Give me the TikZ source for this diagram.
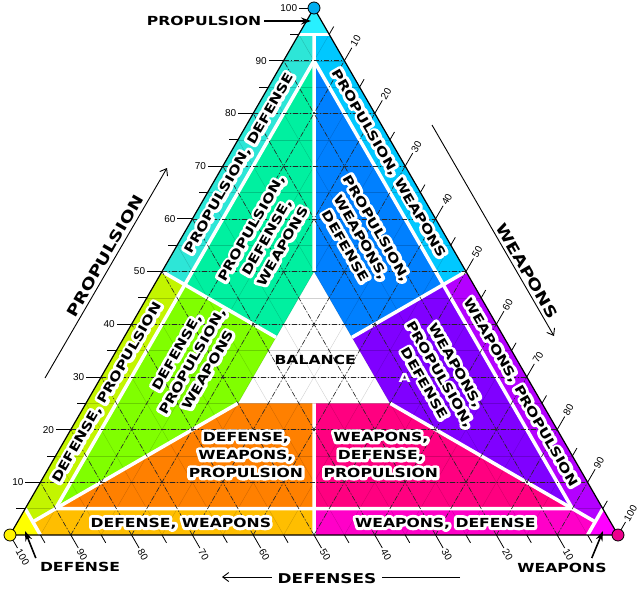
\documentclass[tikz,border=0pt]{standalone}
\usepackage{fontspec}
\setmainfont{Liberation Sans}
\newfontfamily\lblfont{DejaVu Sans}[FakeStretch=1.25]
\usetikzlibrary{arrows.meta}

\definecolor{cTipP}{RGB}{40,240,255}
\definecolor{cPD}{RGB}{45,230,215}
\definecolor{cPW}{RGB}{0,200,255}
\definecolor{cPDW}{RGB}{0,240,160}
\definecolor{cPWD}{RGB}{0,128,255}
\definecolor{cDPW}{RGB}{128,255,0}
\definecolor{cDP}{RGB}{195,245,0}
\definecolor{cTipD}{RGB}{255,255,0}
\definecolor{cDW}{RGB}{255,190,0}
\definecolor{cDWP}{RGB}{255,128,0}
\definecolor{cWDP}{RGB}{255,0,128}
\definecolor{cWD}{RGB}{255,0,200}
\definecolor{cTipW}{RGB}{255,0,255}
\definecolor{cWP}{RGB}{180,0,255}
\definecolor{cWPD}{RGB}{128,0,255}

\tikzset{
  lbl/.style={font=\lblfont\bfseries\fontsize{12.5}{18}\selectfont, align=center, inner sep=0pt},
  axlbl/.style={font=\lblfont\bfseries\fontsize{15}{18}\selectfont, inner sep=0pt},
  wsep/.style={white, line width=3.5pt},
  Mgrid/.style={black!85, line width=0.6pt, dash pattern=on 5pt off 2pt on 1pt off 2pt},
  mgrid/.style={black, opacity=0.18, line width=0.4pt},
  tk/.style={black, line width=0.8pt},
  ticklbl/.style={font=\fontsize{10}{12}\selectfont, inner sep=1.5pt},
  cornerarrow/.style={line width=1.6pt, -{Stealth[length=10pt,width=7pt]}},
  axisarrow/.style={line width=0.9pt, -{Straight Barb[length=6pt,width=9pt]}},
  vcirc/.style={circle, draw=black, line width=0.8pt, minimum size=12pt, inner sep=0pt},
}

% white outlined halo behind a black label
\newcommand{\glow}[4]{%
  \node[lbl, text=white, rotate=#3] at #2 {\special{pdf:literal direct 2 Tr 6 w 1 j 1 J}#4\special{pdf:literal direct 0 Tr}};
  \node[lbl, rotate=#3] (#1) at #2 {#4};
}

\begin{document}
\begin{tikzpicture}[x=1pt,y=1pt]
\useasboundingbox (0,0) rectangle (640,-595);

\begin{scope}[shift={(10pt,-535pt)}, x={(6.08pt,0pt)}, y={(3.04pt,5.27pt)}]
  % background
  \fill[white] (0,0)--(100,0)--(0,100)--cycle;
  % tips
  \fill[cTipP] (0,95)--(5,95)--(0,100)--cycle;
  \fill[cTipD] (0,0)--(5,0)--(0,5)--cycle;
  \fill[cTipW] (100,0)--(95,0)--(95,5)--cycle;
  % strips
  \fill[cPW] (50,50)--(5,95)--(2.5,95)--(5,90)--(47.5,47.5)--cycle;
  \fill[cPD] (0,50)--(0,95)--(2.5,95)--(5,90)--(5,47.5)--cycle;
  \fill[cDP] (0,50)--(0,5)--(2.5,2.5)--(5,5)--(5,47.5)--cycle;
  \fill[cDW] (50,0)--(5,0)--(2.5,2.5)--(5,5)--(47.5,5)--cycle;
  \fill[cWD] (50,0)--(95,0)--(95,2.5)--(90,5)--(47.5,5)--cycle;
  \fill[cWP] (50,50)--(95,5)--(95,2.5)--(90,5)--(47.5,47.5)--cycle;
  % interiors
  \fill[cPWD] (47.5,47.5)--(5,90)--(25,50)--(37.5,37.5)--cycle;
  \fill[cPDW] (5,47.5)--(5,90)--(25,50)--(25,37.5)--cycle;
  \fill[cDPW] (5,47.5)--(5,5)--(25,25)--(25,37.5)--cycle;
  \fill[cDWP] (47.5,5)--(5,5)--(25,25)--(37.5,25)--cycle;
  \fill[cWDP] (47.5,5)--(90,5)--(50,25)--(37.5,25)--cycle;
  \fill[cWPD] (47.5,47.5)--(90,5)--(50,25)--(37.5,37.5)--cycle;

  % fine grid
  \foreach \k in {5,10,...,95}{
    \draw[mgrid] (0,\k)--({100-\k},\k);
    \draw[mgrid] (\k,0)--(\k,{100-\k});
    \draw[mgrid] ({100-\k},0)--(0,{100-\k});
  }

  % white separators
  \draw[wsep] (50,0)--(37.5,25);
  \draw[wsep] (25,50)--(2.5,95);
  \draw[wsep] (0,50)--(25,37.5);
  \draw[wsep] (50,25)--(95,2.5);
  \draw[wsep] (50,50)--(37.5,37.5);
  \draw[wsep] (25,25)--(2.5,2.5);
  \draw[wsep] (5,90)--(5,5)--(90,5)--cycle;
  \draw[wsep] (0,95)--(5,95);
  \draw[wsep] (5,0)--(0,5);
  \draw[wsep] (95,0)--(95,5);

  % major grid
  \foreach \k in {10,20,...,90}{
    \draw[Mgrid] (0,\k)--({100-\k},\k);
    \draw[Mgrid] (\k,0)--(\k,{100-\k});
    \draw[Mgrid] ({100-\k},0)--(0,{100-\k});
  }

  % border
  \draw[line width=1.2pt, line join=miter] (0,0)--(100,0)--(0,100)--cycle;

  % ticks
  \foreach \k in {10,20,...,100}{
    \draw[tk] (0,\k) -- ++(-15pt,0pt) node[ticklbl, anchor=east] (ll\k) {\k};
    \draw[tk] (\k,{100-\k}) -- ++(7.5pt,13pt) node[ticklbl, anchor=west, rotate=60] (rl\k) {\k};
    \draw[tk] ({100-\k},0) -- ++(7.5pt,-13pt) node[ticklbl, anchor=west, rotate=-60] (bl\k) {\k};
  }
  \foreach \k in {5,15,...,95}{
    \draw[tk] (0,\k) -- ++(-9pt,0pt);
    \draw[tk] (\k,{100-\k}) -- ++(4.5pt,7.8pt);
    \draw[tk] ({100-\k},0) -- ++(4.5pt,-7.8pt);
  }

  % region labels
  \glow{sPD}{(2.5,70.5)}{60}{PROPULSION, DEFENSE}
  \glow{sDP}{(2.5,27)}{60}{DEFENSE, PROPULSION}
  \glow{sPW}{(27,70.5)}{-60}{PROPULSION, WEAPONS}
  \glow{sWP}{(70.5,27)}{-60}{WEAPONS, PROPULSION}
  \glow{sDW}{(27,2.2)}{0}{DEFENSE, WEAPONS}
  \glow{sWD}{(70.5,2.2)}{0}{WEAPONS, DEFENSE}
  \glow{iPDW}{(14,56.5)}{60}{PROPULSION,\\DEFENSE,\\WEAPONS}
  \glow{iPWD}{(29.5,56.5)}{-60}{PROPULSION,\\WEAPONS,\\DEFENSE}
  \glow{iDPW}{(13.5,33)}{60}{DEFENSE,\\PROPULSION,\\WEAPONS}
  \glow{iWPD}{(55.5,30.5)}{-60}{WEAPONS,\\PROPULSION,\\DEFENSE}
  \glow{iDWP}{(31.2,15.2)}{0}{DEFENSE,\\WEAPONS,\\PROPULSION}
  \glow{iWDP}{(53.4,15.2)}{0}{WEAPONS,\\DEFENSE,\\PROPULSION}
  \node[lbl] (bal) at (33.6,33.2) {BALANCE};
  \node[lbl, text=white] (mA) at (50,29.8) {A};
\end{scope}

% vertex circles
\node[vcirc, fill=cyan] (vT) at (314,-8) {};
\node[vcirc, fill=yellow] (vL) at (10,-535) {};
\node[vcirc, fill=magenta] (vR) at (618,-535) {};

% corner labels
\node[lbl] (cP) at (204,-21) {PROPULSION};
\coordinate (cPa) at (311,-21);
\draw[cornerarrow, shorten <=3pt] (cP.east) -- (cPa);

\node[lbl] (cD) at (80,-567) {DEFENSE};
\coordinate (cDa) at (25,-531);
\draw[cornerarrow] ([shift={(-4pt,4pt)}]cD.north west) -- (cDa);

\node[lbl] (cW) at (562,-568) {WEAPONS};
\coordinate (cWa) at (603,-531);
\draw[cornerarrow] ([shift={(-15pt,5pt)}]cW.north east) -- (cWa);

% axis arrows
\coordinate (apS) at (45,-378);
\coordinate (apE) at (167,-168);
\draw[axisarrow] (apS) -- (apE);
\node[axlbl, rotate=60] (apL) at (105,-256) {PROPULSION};

\coordinate (awS) at (432,-125);
\coordinate (awE) at (554,-336);
\draw[axisarrow] (awS) -- (awE);
\node[axlbl, rotate=-60] (awL) at (527,-271) {WEAPONS};

\coordinate (adS) at (460,-577);
\coordinate (adE) at (222,-577);
\draw[axisarrow] (adS) -- (adE);
\node[axlbl, font=\lblfont\bfseries\fontsize{13.5}{16}\selectfont, fill=white, inner xsep=6pt, inner ysep=2pt] (adL) at (327,-579) {DEFENSES};

\end{tikzpicture}
\end{document}
